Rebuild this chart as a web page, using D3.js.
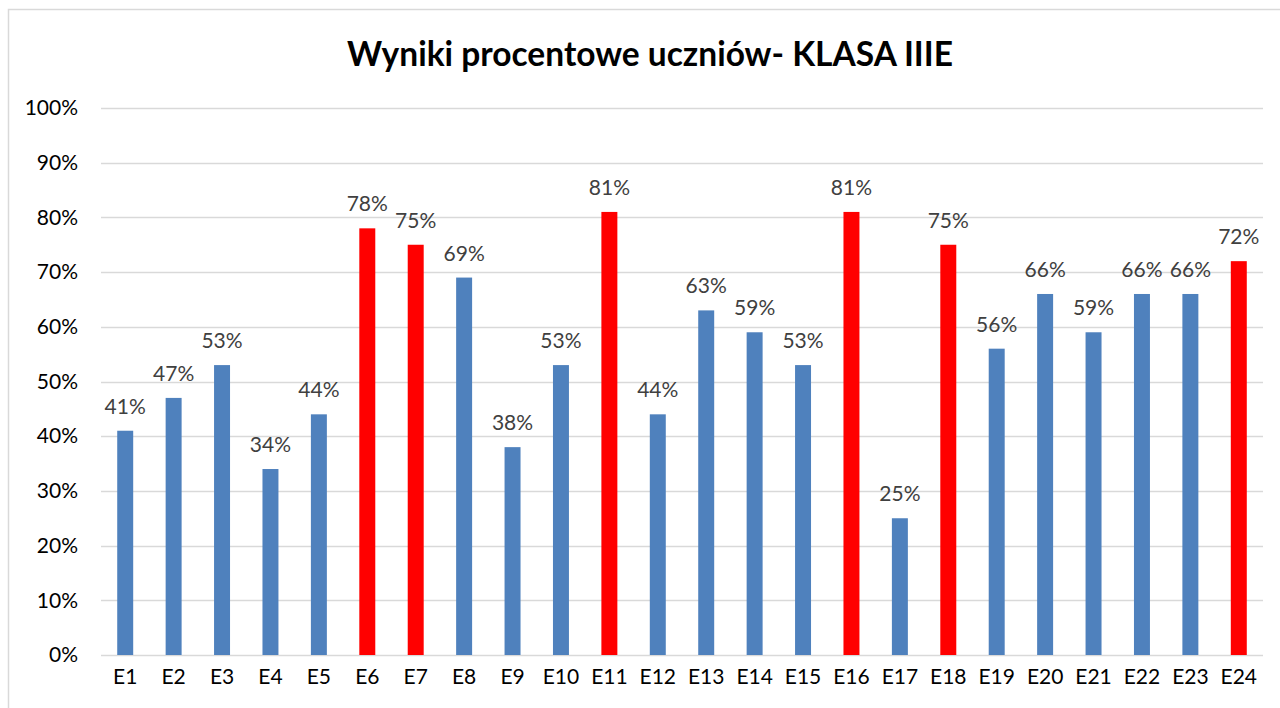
<!DOCTYPE html>
<html>
<head>
<meta charset="utf-8">
<script src="https://cdn.jsdelivr.net/npm/d3@7"></script>
<style>
  body { margin: 0; background: #fff; }
  svg { display: block; font-family: Lato, "Open Sans", sans-serif; }
</style>
</head>
<body>
<svg id="chart" width="1280" height="708"></svg>
<script>
// data
var categories = ["E1","E2","E3","E4","E5","E6","E7","E8","E9","E10","E11","E12",
                  "E13","E14","E15","E16","E17","E18","E19","E20","E21","E22","E23","E24"];
var values = [41,47,53,34,44,78,75,69,38,53,81,44,63,59,53,81,25,75,56,66,59,66,66,72];
var highlighted = ["E6","E7","E11","E16","E18","E24"];
var yTicks = [0,10,20,30,40,50,60,70,80,90,100];

var svg = d3.select("#chart");
var margin = {top: 108, right: 17, bottom: 53, left: 101},
    width = 1280 - margin.left - margin.right,
    height = 708 - margin.top - margin.bottom;

// chart frame
svg.append("rect")
  .attr("x", 8.5).attr("y", 9.5)
  .attr("width", 1290).attr("height", 720)
  .attr("fill", "#fff")
  .attr("stroke", "#d9d9d9")
  .attr("stroke-width", 1.5);

svg.append("text")
  .attr("x", 650).attr("y", 66)
  .attr("text-anchor", "middle")
  .style("font-size", "33.5px")
  .style("font-weight", "bold")
  .style("fill", "#000")
  .text("Wyniki procentowe uczniów- KLASA IIIE");

var g = svg.append("g")
  .attr("transform", "translate(" + margin.left + "," + margin.top + ")");

var x = d3.scaleBand()
  .domain(categories)
  .range([0, width])
  .paddingInner(0.67)
  .paddingOuter(0.335);

var y = d3.scaleLinear()
  .domain([0, 100])
  .range([height, 0]);

// gridlines
g.append("g")
  .selectAll("line")
  .data(yTicks)
  .join("line")
    .attr("x1", 0).attr("x2", width)
    .attr("y1", function(d) { return Math.round(y(d)) + 0.5; })
    .attr("y2", function(d) { return Math.round(y(d)) + 0.5; })
    .attr("stroke", "#d9d9d9")
    .attr("stroke-width", 1.5);

// y axis
var yAxis = g.append("g")
  .call(d3.axisLeft(y).tickValues(yTicks).tickSize(0).tickPadding(23)
    .tickFormat(function(d) { return d + "%"; }));
yAxis.select(".domain").remove();
yAxis.selectAll("text")
  .style("font-size", "21px")
  .style("font-family", "Lato, 'Open Sans', sans-serif")
  .attr("fill", "#000");

// x axis
var xAxis = g.append("g")
  .attr("transform", "translate(0," + height + ")")
  .call(d3.axisBottom(x).tickSize(0).tickPadding(14));
xAxis.select(".domain").remove();
xAxis.selectAll("text")
  .style("font-size", "21px")
  .style("font-family", "Lato, 'Open Sans', sans-serif")
  .attr("fill", "#000");

// bars
g.selectAll(".bar")
  .data(values)
  .join("rect")
    .attr("class", "bar")
    .attr("x", function(d, i) { return x(categories[i]); })
    .attr("width", x.bandwidth())
    .attr("y", function(d) { return y(d); })
    .attr("height", function(d) { return height - y(d); })
    .attr("fill", function(d, i) {
      return highlighted.indexOf(categories[i]) >= 0 ? "#ff0000" : "#4f81bd";
    });

// value labels
g.selectAll(".label")
  .data(values)
  .join("text")
    .attr("class", "label")
    .attr("x", function(d, i) { return x(categories[i]) + x.bandwidth() / 2; })
    .attr("y", function(d) { return y(d) - 17; })
    .attr("text-anchor", "middle")
    .style("font-size", "21px")
    .style("fill", "#404040")
    .text(function(d) { return d + "%"; });
</script>
</body>
</html>
